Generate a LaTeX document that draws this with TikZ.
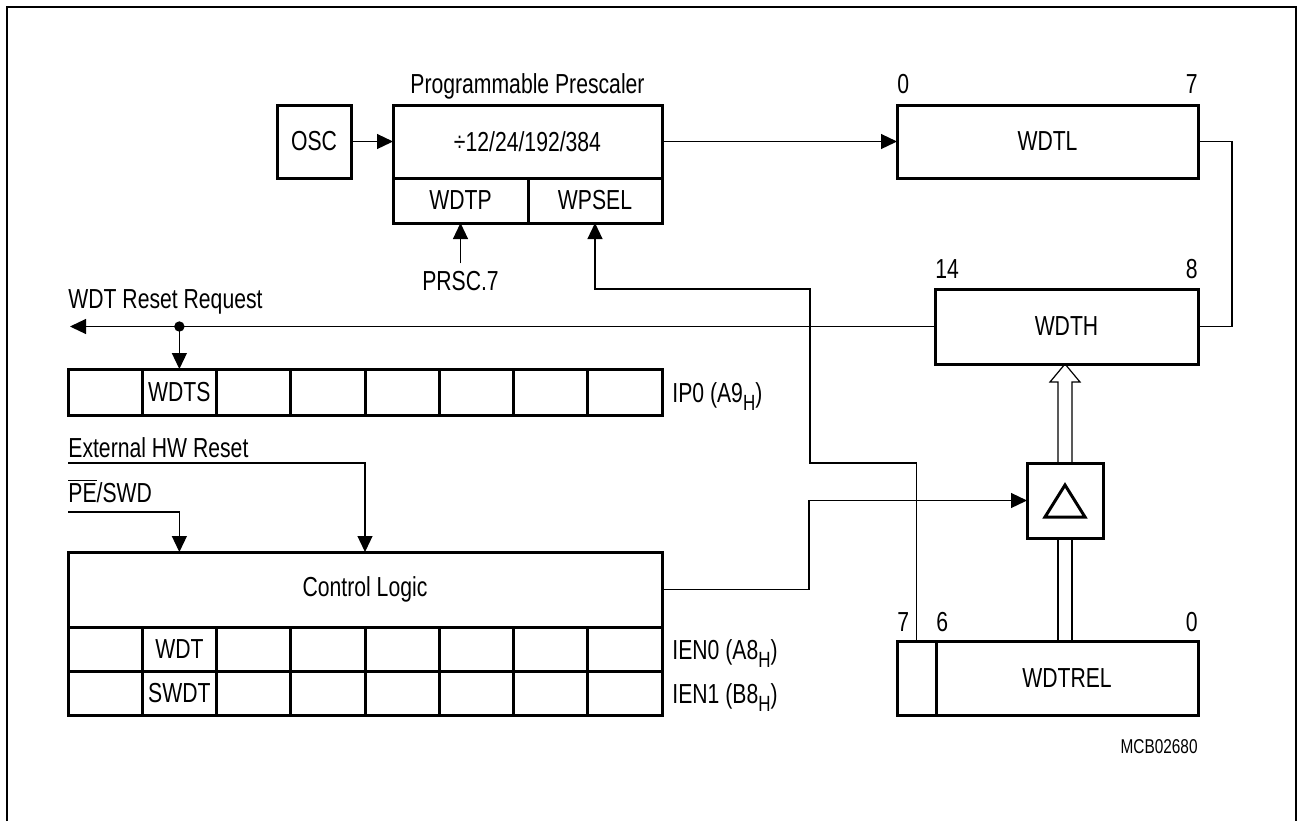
\documentclass[tikz,border=0pt]{standalone}
\usepackage{fontspec}
\setmainfont{Liberation Sans}[FakeStretch=0.77]
\usetikzlibrary{arrows.meta,calc,positioning}
\newcommand{\subH}{\raisebox{-4pt}{\fontsize{11pt}{12pt}\selectfont H}}
\tikzset{
  reg/.style={rectangle,draw,line width=1.5pt,inner sep=0pt,outer sep=0pt,
    align=center},
  cell/.style={reg,minimum width=37.125pt,minimum height=23pt},
  wire/.style={line width=0.6pt},
  arr/.style={wire,-{Triangle[length=8pt,width=7.5pt]}},
  num/.style={inner sep=0pt,anchor=base},
  txt/.style={inner sep=0pt,anchor=base west}
}
\begin{document}
\begin{tikzpicture}[x=0.5pt,y=-0.5pt,font=\fontsize{13.75pt}{16pt}\selectfont]
  \useasboundingbox (0,0) rectangle (1297,821);
  \draw[line width=1pt] (7,821) -- (7,7) -- (1295.5,7) -- (1295.5,821);
  % prescaler
  \node[reg,minimum width=37pt,minimum height=36.5pt] (osc) at (314,141.5) {OSC};
  \node[reg,minimum width=134.5pt,minimum height=36.5pt] (pre) at (527.5,141.5) {÷12/24/192/384};
  \node[reg,minimum width=67.5pt,minimum height=22.5pt] (wdtp) at (460.5,200.5) {WDTP};
  \node[reg,minimum width=67pt,minimum height=22.5pt] (wpsel) at (595,200.5) {WPSEL};
  \node[num] (ptitle) at ([yshift=6pt]pre.north) {Programmable Prescaler};
  \node[num] (prsc) at (460.5,290) {PRSC.7};
  % counter and reload
  \node[reg,minimum width=150.5pt,minimum height=36.5pt] (wdtl) at (1047.5,141.5) {WDTL};
  \node[reg,minimum width=131.5pt,minimum height=37.5pt] (wdth) at (1066.5,326.5) {WDTH};
  \node[reg,minimum width=38pt,minimum height=37.5pt] (delta) at (1065,500.5) {};
  \node[reg,minimum width=19.5pt,minimum height=37pt] (b7) at (916.5,678) {};
  \node[reg,minimum width=131pt,minimum height=37pt] (wdtrel) at (1067,678) {WDTREL};
  \node[num,anchor=base west] (wl0) at ([yshift=6pt]wdtl.north west) {0};
  \node[num,anchor=base east] (wl7) at ([yshift=6pt]wdtl.north east) {7};
  \node[num,anchor=base west] (wh14) at ([yshift=5.5pt]wdth.north west) {14};
  \node[num,anchor=base east] (wh8) at ([yshift=5.5pt]wdth.north east) {8};
  \node[num,anchor=base west] (wr7) at ([yshift=5pt]b7.north west) {7};
  \node[num,anchor=base west] (wr6) at ([yshift=5pt]wdtrel.north west) {6};
  \node[num,anchor=base east] (wr0) at ([yshift=5pt]wdtrel.north east) {0};
  \draw[line width=1.5pt,line join=miter] ($(delta)+(-20,16.5)$) -- ++(40,0) -- ++(-20,-32) -- cycle;
  % SFR bits
  \foreach \i in {1,...,8} {
    \node[cell] (ip\i) at ({68+74.25*(\i-0.5)},392) {\ifnum\i=2 WDTS\fi};
    \node[cell,minimum height=22pt] (ea\i) at ({68+74.25*(\i-0.5)},649) {\ifnum\i=2 WDT\fi};
    \node[cell,minimum height=22pt] (eb\i) at ({68+74.25*(\i-0.5)},693) {\ifnum\i=2 SWDT\fi};
  }
  \node[reg,minimum width=297pt,minimum height=37.5pt] (ctrl) at (365,589.5) {Control Logic};
  \node[txt] (ip0lab) at ([xshift=5pt,yshift=-5pt]ip8.east) {IP0 (A9\subH)};
  \node[txt] (ien0lab) at ([xshift=5pt,yshift=-5pt]ea8.east) {IEN0 (A8\subH)};
  \node[txt] (ien1lab) at ([xshift=5pt,yshift=-5pt]eb8.east) {IEN1 (B8\subH)};
  \node[txt] (reqlab) at (68,308) {WDT Reset Request};
  \node[txt] (hwlab) at (68,457) {External HW Reset};
  \node[txt] (pelab) at (68,502) {$\overline{\hbox{PE}}$/SWD};
  \node[txt,anchor=base east,font=\fontsize{10pt}{12pt}\selectfont] (mcb) at (1198,753) {MCB02680};
  % connections
  \coordinate (tap) at (ip2 |- wdth.west);
  \coordinate (reqend) at (70,326.5);
  \coordinate (hw) at (68,463);
  \coordinate (pe) at (68,512);
  \coordinate (k1) at (810,463);
  \draw[arr] (osc) -- (pre);
  \draw[arr] (pre) -- (wdtl);
  \draw[arr] ([yshift=3.5pt]prsc.north) -- (wdtp.south);
  \draw[wire] (wdtl.east) -- ++(34,0) |- (wdth.east);
  \draw[arr] (wdth.west) -- (reqend);
  \fill (tap) circle (2.6pt);
  \draw[arr] (tap) -- (ip2.north);
  \draw[arr] (hw) -| (ctrl.north);
  \draw[arr] (pe) -| (ea2 |- ctrl.north);
  \draw[arr] (ctrl.east) -- ++(147,0) |- (delta.west);
  \draw[arr] (b7.north) |- (k1) |- ($(wpsel.south)+(0,66)$) -- (wpsel.south);
  \draw[wire] ([xshift=-3.5pt]delta.south) -- ([xshift=-3.5pt]delta.south |- wdtrel.north);
  \draw[wire] ([xshift=3.5pt]delta.south) -- ([xshift=3.5pt]delta.south |- wdtrel.north);
  \draw[wire] ([xshift=-3.5pt]delta.north) -- ++(0,-81) -- ++(-8,0)
    -- (delta.north |- wdth.south) -- ++(15,18) -- ++(-8,0) -- ([xshift=3.5pt]delta.north);
\end{tikzpicture}
\end{document}
